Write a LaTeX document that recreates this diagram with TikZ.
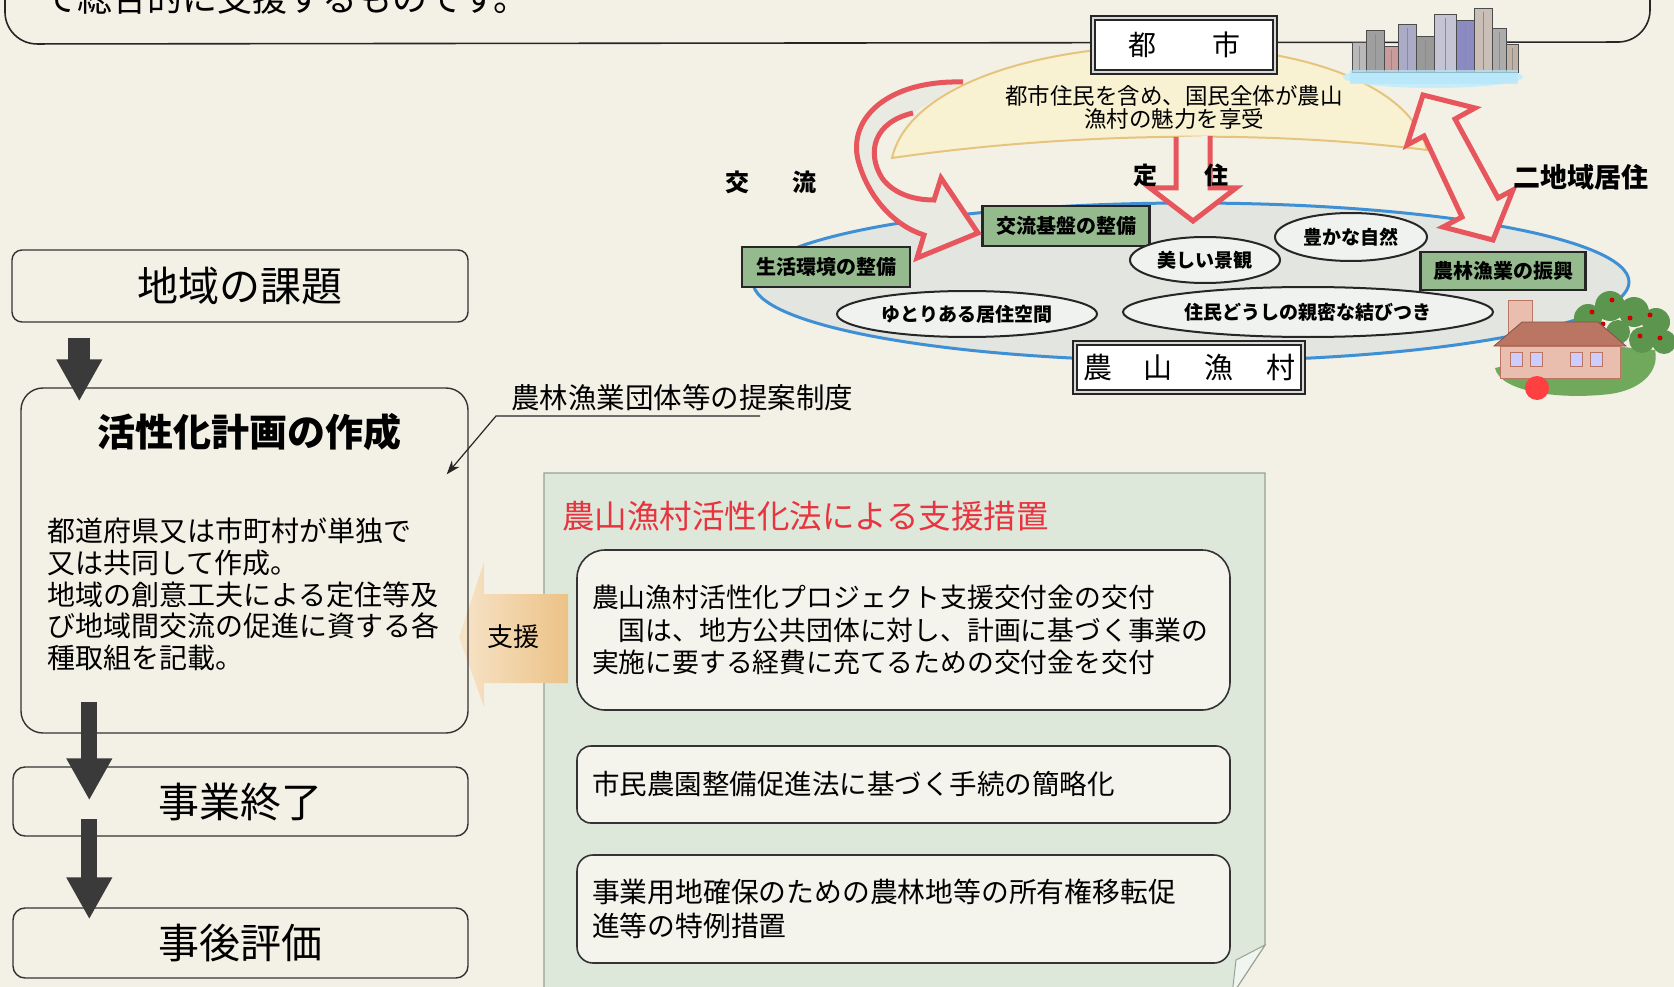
\documentclass[tikz,border=0pt]{standalone}
\usepackage{fontspec}
\setmainfont{Noto Sans CJK JP}
\usepackage{tikz}
\usetikzlibrary{arrows.meta}
\usetikzlibrary{shapes,shapes.geometric,calc}

\definecolor{paper}{RGB}{243,241,230}
\definecolor{lensfill}{RGB}{248,242,210}
\definecolor{lensedge}{RGB}{230,196,125}
\definecolor{farmfill}{RGB}{226,229,224}
\definecolor{farmedge}{RGB}{62,143,211}
\definecolor{tagfill}{RGB}{148,186,142}
\definecolor{flowred}{RGB}{230,86,92}
\definecolor{panelfill}{RGB}{221,231,218}
\definecolor{paneledge}{RGB}{150,163,148}
\definecolor{titlered}{RGB}{232,52,62}
\definecolor{arrowgrey}{RGB}{58,58,58}
\definecolor{boxfill}{RGB}{245,244,236}
\definecolor{supporttan}{RGB}{236,194,134}
\definecolor{villagegreen}{RGB}{112,168,92}
\definecolor{treegreen}{RGB}{92,150,78}
\definecolor{roofbrown}{RGB}{186,118,98}
\definecolor{wallpink}{RGB}{234,190,174}

\newcommand{\jpsize}[2]{\fontsize{#1}{#2}\selectfont}

\begin{document}
\begin{tikzpicture}[x=1pt, y=-1pt,
	stepbox/.style={draw=black!80, line width=1.4pt, rounded corners=#1},
	stepbox/.default=10pt,
	downarrow/.style={draw=arrowgrey, line width=#1, -{Triangle[width=43pt,length=42pt]}},
	tagbox/.style={draw=black!85, line width=2.6pt, fill=tagfill, font=\bfseries\jpsize{20}{20}, inner sep=0pt, minimum height=40pt},
	merit/.style={ellipse, draw=black!85, line width=2pt, fill=farmfill!50!white, font=\bfseries\jpsize{19}{19}, inner sep=0pt},
	placebox/.style={draw=black!85, line width=1.8pt, double=black!15, double distance=2.2pt, fill=white, inner sep=0pt},
	flowarrow/.style={draw=flowred, line width=5pt, fill=paper, line join=miter},
	flowlabel/.style={font=\bfseries\jpsize{24}{24}},
	measurebox/.style={draw=black!80, line width=1.6pt, fill=boxfill, inner xsep=15pt, align=left}]

	\useasboundingbox (0,0) rectangle (1674,987);
	\fill[paper] (0,0) rectangle (1674,987);

	% frame left over from the page above
	\draw[black!85, line width=1.6pt, rounded corners=32pt] (5,-40) -- (5,44) -- (1650,42) -- (1650,-40);
	\node[anchor=base west, font=\jpsize{35}{35}, inner sep=0pt] (lead) at (42,12) {て総合的に支援するものです。};

	% city side
	\path[fill=lensfill, draw=lensedge, line width=2pt] (892,158) .. controls (925,15) and (1390,5) .. (1427,150) .. controls (1250,128) and (1050,135) .. (892,158) -- cycle;
	\node[font=\jpsize{22.5}{23}, align=center, inner sep=0pt] (share) at (1174,107) {都市住民を含め、国民全体が農山\\漁村の魅力を享受};

	% rural side
	\node[ellipse, draw=farmedge, line width=3pt, fill=farmfill, minimum width=876pt, minimum height=158pt] (farm) at (1191,282) {};

	\node[tagbox, minimum width=167pt] (koryu-tag) at (1066,226) {交流基盤の整備};
	\node[tagbox, minimum width=168pt] (seikatsu-tag) at (826,267) {生活環境の整備};
	\node[tagbox, minimum width=165pt, minimum height=38pt] (noringyo-tag) at (1503,271) {農林漁業の振興};

	\node[merit, minimum width=150pt, minimum height=46pt] (keikan) at (1205,260) {美しい景観};
	\node[merit, minimum width=152pt, minimum height=48pt] (shizen) at (1351,237) {豊かな自然};
	\node[merit, minimum width=260pt, minimum height=46pt] (yutori) at (967,314) {ゆとりある居住空間};
	\node[merit, minimum width=370pt, minimum height=50pt] (kizuna) at (1308,312) {住民どうしの親密な結びつき};

	% hollow red arrows
	\path[flowarrow, fill=farmfill!60!paper] (963,82) .. controls (888,80) and (848,118) .. (858,160) .. controls (868,198) and (895,226) .. (924,235) -- (917,258) -- (978,233) -- (941,178) -- (934,200) .. controls (912,200) and (893,193) .. (882,178) .. controls (866,152) and (874,122) .. (913,113);
	\path[flowarrow] (1176,137) -- (1176,188) -- (1150,188) -- (1193,221) -- (1236,188) -- (1210,188) -- (1210,136);
	\path[flowarrow] (1423,95) -- (1475,108) -- (1455,119) -- (1498,198) -- (1513,190) -- (1493,240) -- (1443,227) -- (1462,217) -- (1424,136) -- (1407,145) -- cycle;

	\node[flowlabel] (koryu) at (771,182) {交\hspace{44pt}流};
	\node[flowlabel] (teiju) at (1181,175) {定\hspace{47pt}住};
	\node[font=\bfseries\jpsize{27}{27}] (nichiiki) at (1581,177) {二地域居住};

	\node[placebox, minimum width=182pt, minimum height=54pt, font=\jpsize{28}{28}] (toshi) at (1184,45) {都\hspace{56pt}市};
	\node[placebox, minimum width=228pt, minimum height=49pt, font=\jpsize{29}{29}] (noson) at (1189,367.5) {農\hspace{32pt}山\hspace{32pt}漁\hspace{32pt}村};

	% skyline
	\fill[cyan!22!white] (1433,77) ellipse [x radius=90, y radius=11];
	\foreach \l/\t/\r/\c in {1352/42/1366/gray!55, 1366/30/1384/gray!75, 1384/46/1398/red!30!gray!60, 1398/24/1416/blue!20!gray!55, 1416/36/1434/gray!80, 1434/14/1456/blue!15!gray!40, 1456/20/1474/blue!30!gray!70, 1474/8/1492/brown!30!gray!50, 1492/28/1506/gray!65, 1506/44/1518/brown!40!gray!60}
	{
		\filldraw[fill=\c, draw=black!70, line width=0.5pt] (\l,\t) rectangle (\r,72);
		\draw[black!45, line width=0.5pt] ({(\l+\r)/2},\t+4) -- ({(\l+\r)/2},70);
	}
	\fill[cyan!30!white, opacity=0.7] (1350,70) rectangle (1518,84);

	% village
	\fill[villagegreen] (1495,368) .. controls (1500,392) and (1560,400) .. (1610,394) .. controls (1640,390) and (1660,372) .. (1655,350) -- (1600,345) -- cycle;
	\foreach \cx/\cy/\r in {1588/318/14, 1610/306/15, 1634/312/15, 1656/322/14, 1664/342/12, 1642/340/13, 1618/332/12}
		\fill[treegreen] (\cx,\cy) circle [radius=\r];
	\foreach \cx/\cy in {1592/312, 1612/300, 1630/318, 1650/315, 1660/338, 1640/336, 1603/324}
		\fill[red!80!black] (\cx,\cy) circle [radius=2.5];
	\filldraw[fill=wallpink, draw=roofbrown, line width=0.8pt] (1508,300) rectangle (1532,340);
	\filldraw[fill=roofbrown, draw=roofbrown!70!black, line width=0.8pt] (1494,346) -- (1522,322) -- (1598,322) -- (1626,346) -- cycle;
	\filldraw[fill=wallpink, draw=roofbrown, line width=0.8pt] (1500,346) rectangle (1620,378);
	\foreach \wx in {1510,1530,1570,1590}
		\filldraw[fill=white!80!blue, draw=roofbrown, line width=0.6pt] (\wx,352) rectangle ++(12,14);
	\fill[red!75!white] (1537,388) circle [radius=12];

	% support measures
	\path[fill=panelfill, draw=paneledge, line width=1.2pt] (544,995) -- (544,473) -- (1265,473) -- (1265,945) -- (1232,995);
	\path[fill=panelfill!40!white, draw=paneledge, line width=1pt] (1265,945) -- (1236,960) -- (1232,995) -- cycle;
	\node[anchor=west, font=\jpsize{32.5}{32.5}, text=titlered, inner sep=0pt] (panel-title) at (562,516) {農山漁村活性化法による支援措置};

	\node[measurebox, rounded corners=28pt, minimum width=653pt, minimum height=160pt, text width=623pt, font=\jpsize{26.8}{32.5}] (kofukin) at (903.5,630) {農山漁村活性化プロジェクト支援交付金の交付\\　国は、地方公共団体に対し、計画に基づく事業の\\実施に要する経費に充てるための交付金を交付};
	\node[measurebox, rounded corners=14pt, minimum width=653pt, minimum height=77pt, text width=623pt, font=\jpsize{27.5}{27.5}] (shimin) at (903.5,784.5) {市民農園整備促進法に基づく手続の簡略化};
	\node[measurebox, rounded corners=16pt, minimum width=653pt, minimum height=108pt, text width=623pt, font=\jpsize{27.8}{34}] (tokurei) at (903.5,909) {事業用地確保のための農林地等の所有権移転促\\進等の特例措置};

	\path[shade, left color=supporttan!45!white, right color=supporttan] (459,637) -- (484,562) -- (484,594) -- (568,594) -- (568,683) -- (484,683) -- (484,707) -- cycle;
	\node[font=\jpsize{26}{26}] (shien) at (513,637) {支援};

	% planning flow
	\node[stepbox, minimum width=456pt, minimum height=72pt, font=\jpsize{41}{41}] (kadai) at (240,286) {地域の課題};
	\node[stepbox=22pt, minimum width=447pt, minimum height=345pt] (sakusei) at (244.5,560.5) {};
	\node[font=\bfseries\jpsize{38}{38}] (sakusei-title) at (249,432) {活性化計画の作成};
	\node[anchor=north west, align=left, font=\jpsize{28}{31.7}, inner sep=0pt] (sakusei-body) at (47,518) {都道府県又は市町村が単独で\\又は共同して作成。\\地域の創意工夫による定住等及\\び地域間交流の促進に資する各\\種取組を記載。};
	\node[stepbox=12pt, minimum width=455pt, minimum height=69pt, font=\jpsize{41}{41}] (shuryo) at (240.5,801.5) {事業終了};
	\node[stepbox=12pt, minimum width=455pt, minimum height=70pt, font=\jpsize{41}{41}] (hyoka) at (240.5,943) {事後評価};

	\draw[downarrow=22pt] ([shift={(68,15)}]kadai.south west) -- ([shift={(59,14)}]sakusei.north west);
	\draw[downarrow=16pt] ([shift={(69,-32)}]sakusei.south west) -- ([shift={(77,34)}]shuryo.north west);
	\draw[downarrow=16pt] ([shift={(77,53)}]shuryo.north west) -- ([shift={(77,12)}]hyoka.north west);

	\node[font=\jpsize{28.5}{28.5}] (teian) at (682,398) {農林漁業団体等の提案制度};
	\coordinate (teian-foot) at (496,416);
	\draw[black!85, line width=1.2pt, -{Stealth[length=14pt,width=10pt]}] ([xshift=264pt]teian-foot) -- (teian-foot) -- ([shift={(-22,87)}]sakusei.north east);

\end{tikzpicture}
\end{document}
